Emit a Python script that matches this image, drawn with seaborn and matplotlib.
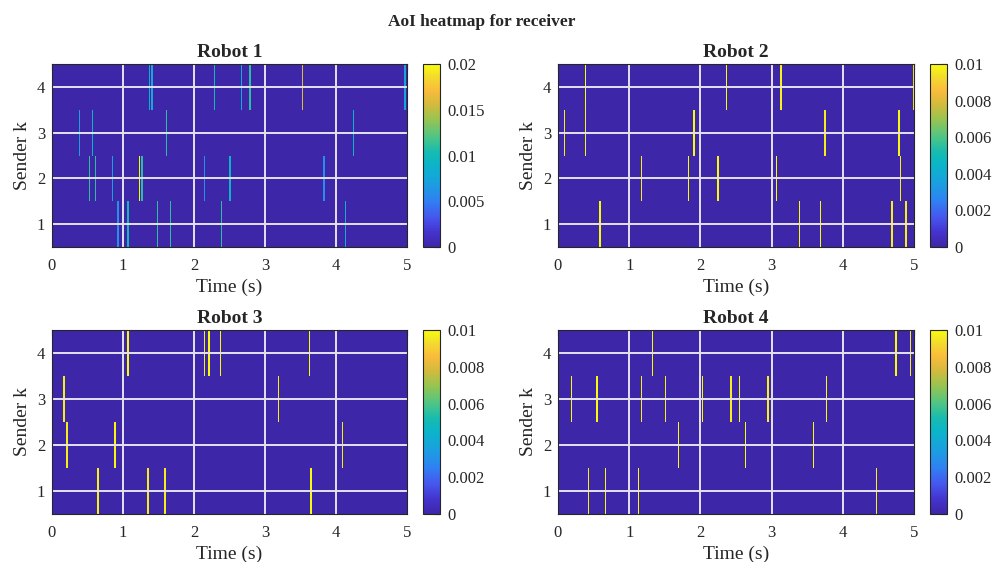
import numpy as np
import pandas as pd
import matplotlib
matplotlib.use("Agg")
import matplotlib.pyplot as plt
import seaborn as sns
from matplotlib.colors import LinearSegmentedColormap

# ---------------- data ----------------
DT = 0.02          # sample period (s)
T_END = 5.0        # simulation length (s)
sender_labels = [4, 3, 2, 1]          # rows top -> bottom
time_ticks = [0, 1, 2, 3, 4, 5]

robot_titles = ["Robot 1", "Robot 2", "Robot 3", "Robot 4"]

r1_sender = [4, 4, 4, 4, 4, 4, 4,
             3, 3, 3, 3,
             2, 2, 2, 2, 2, 2, 2, 2,
             1, 1, 1, 1, 1, 1]
r1_time = [1.374, 1.411, 2.297, 2.663, 2.785, 3.530, 4.970,
           0.389, 0.567, 1.603, 4.257,
           0.534, 0.619, 0.858, 1.233, 1.266, 2.147, 2.518, 3.830,
           0.938, 1.069, 1.491, 1.660, 2.391, 4.135]
r1_value = [0.008, 0.008, 0.010, 0.008, 0.011, 0.016, 0.007,
            0.007, 0.009, 0.011, 0.009,
            0.011, 0.011, 0.007, 0.020, 0.011, 0.006, 0.009, 0.006,
            0.006, 0.010, 0.011, 0.011, 0.011, 0.008]

r2_sender = [4, 4, 4, 4,
             3, 3, 3, 3, 3,
             2, 2, 2, 2, 2,
             1, 1, 1, 1, 1]
r2_time = [0.384, 2.374, 3.123, 4.980,
           0.094, 0.398, 1.910, 3.759, 4.789,
           1.170, 1.826, 2.247, 3.062, 4.813,
           0.590, 3.399, 3.680, 4.686, 4.897]
r2_value = [0.0100, 0.0100, 0.0098, 0.0097,
            0.0097, 0.0098, 0.0100, 0.0097, 0.0099,
            0.0097, 0.0100, 0.0100, 0.0100, 0.0097,
            0.0100, 0.0100, 0.0100, 0.0097, 0.0097]

r3_sender = [4, 4, 4, 4, 4,
             3, 3,
             2, 2, 2,
             1, 1, 1, 1]
r3_time = [1.069, 2.147, 2.213, 2.363, 3.629,
           0.173, 3.183,
           0.211, 0.891, 4.097,
           0.652, 1.341, 1.594, 3.647]
r3_value = [0.0100, 0.0097, 0.0100, 0.0100, 0.0100,
            0.0097, 0.0097,
            0.0097, 0.0099, 0.0097,
            0.0098, 0.0097, 0.0097, 0.0100]

r4_sender = [4, 4, 4,
             3, 3, 3, 3, 3, 3, 3, 3, 3, 3,
             2, 2, 2,
             1, 1, 1, 1]
r4_time = [1.320, 4.747, 4.949,
           0.197, 0.548, 1.161, 1.507, 1.985, 2.037, 2.434, 2.542, 2.954, 3.764,
           1.685, 2.626, 3.596,
           0.435, 0.660, 1.138, 4.471]
r4_value = [0.0100, 0.0100, 0.0097,
            0.0100, 0.0100, 0.0097, 0.0097, 0.0098, 0.0100, 0.0097, 0.0100, 0.0098, 0.0100,
            0.0100, 0.0100, 0.0100,
            0.0097, 0.0099, 0.0100, 0.0098]

robot_senders = [r1_sender, r2_sender, r3_sender, r4_sender]
robot_times = [r1_time, r2_time, r3_time, r4_time]
robot_values = [r1_value, r2_value, r3_value, r4_value]

cbar_max = [0.02, 0.01, 0.01, 0.01]
cbar_ticks = [[0, 0.005, 0.01, 0.015, 0.02],
              [0, 0.002, 0.004, 0.006, 0.008, 0.01],
              [0, 0.002, 0.004, 0.006, 0.008, 0.01],
              [0, 0.002, 0.004, 0.006, 0.008, 0.01]]

# parula-like colormap anchors
parula_pos = [0.00, 0.08, 0.16, 0.25, 0.35, 0.45, 0.52, 0.60, 0.70, 0.78, 0.86, 0.93, 1.00]
parula_col = ["#3E26A8", "#4433CE", "#4656EE", "#2F80F3", "#1AA0E0", "#0AB5C8",
              "#17BBB0", "#4DC585", "#99C450", "#D4BA3C", "#FBBC3B", "#F2DB2E", "#F9FB0E"]
parula = LinearSegmentedColormap.from_list("parula", list(zip(parula_pos, parula_col)))

# ---------------- style ----------------
sns.set_theme(style="white")
plt.rcParams["font.family"] = ["Liberation Serif", "DejaVu Serif"]
plt.rcParams["text.color"] = "#262626"
plt.rcParams["axes.labelcolor"] = "#262626"

fig = plt.figure(figsize=(9.95, 5.62), dpi=100)
W, H = 995.0, 562.0

# pixel boxes (left, top, right, bottom)
ax_boxes = [(52, 64, 407, 247), (558, 64, 914, 247),
            (52, 330, 407, 514), (558, 330, 914, 514)]
cb_boxes = [(423, 64, 440, 247), (930, 64, 947, 247),
            (423, 330, 440, 514), (930, 330, 947, 514)]


def fig_rect(b):
    l, t, r, bt = b
    return [l / W, 1 - bt / H, (r - l) / W, (bt - t) / H]


n_samples = int(round(T_END / DT))
col_times = np.round(np.arange(n_samples) * DT, 2)
dark = "#262626"
grid_col = "#E4E2F0"

for i in range(4):
    ax = fig.add_axes(fig_rect(ax_boxes[i]))
    cax = fig.add_axes(fig_rect(cb_boxes[i]))

    mat = np.zeros((len(sender_labels), n_samples))
    for s, t, v in zip(robot_senders[i], robot_times[i], robot_values[i]):
        row = sender_labels.index(s)
        col = min(int(round(t / DT, 6)), n_samples - 1)
        mat[row, col] = v
    df = pd.DataFrame(mat, index=sender_labels, columns=col_times)

    sns.heatmap(df, ax=ax, cbar_ax=cax, cmap=parula, vmin=0, vmax=cbar_max[i],
                xticklabels=False, yticklabels=False,
                linewidths=0, linecolor="none")
    ax.set_facecolor(parula_col[0])
    ax.set_xlim(0, n_samples)
    ax.set_ylim(len(sender_labels), 0)

    xt = [t / DT for t in time_ticks]
    yt = [r + 0.5 for r in range(len(sender_labels))]
    ax.set_xticks(xt)
    ax.set_xticklabels([str(t) for t in time_ticks], rotation=0)
    ax.set_yticks(yt)
    ax.set_yticklabels([str(s) for s in sender_labels], rotation=0)
    ax.grid(False)
    for x in xt[1:-1]:
        ax.axvline(x, color=grid_col, linewidth=1.4, zorder=3)
    for y in yt:
        ax.axhline(y, color=grid_col, linewidth=1.4, zorder=3)

    for sp in ax.spines.values():
        sp.set_visible(True)
        sp.set_color(dark)
        sp.set_linewidth(0.8)
        sp.set_zorder(5)
    ax.tick_params(direction="in", length=4, width=0.8, top=True, right=True,
                   colors=dark, labelsize=12)
    ax.tick_params(axis="x", pad=8)
    ax.tick_params(axis="y", pad=5)

    ax.set_xlabel("Time (s)", fontsize=14, labelpad=3)
    ax.set_ylabel("Sender k", fontsize=14, labelpad=4)
    ax.set_title(robot_titles[i], fontsize=14, fontweight="bold", pad=5, color=dark)

    cb = ax.collections[0].colorbar
    cb.set_ticks(cbar_ticks[i])
    cb.set_ticklabels(["%g" % v for v in cbar_ticks[i]])
    cb.outline.set_visible(True)
    cb.outline.set_linewidth(0.8)
    cb.outline.set_edgecolor(dark)
    cax.tick_params(direction="in", length=4, width=0.8, colors=dark,
                    labelsize=12, pad=5)

fig.text(482 / W, 1 - 22 / H, "AoI heatmap for receiver", ha="center", va="center",
         fontsize=12.5, fontweight="bold", color=dark)

fig.savefig("out.png", dpi=100)
